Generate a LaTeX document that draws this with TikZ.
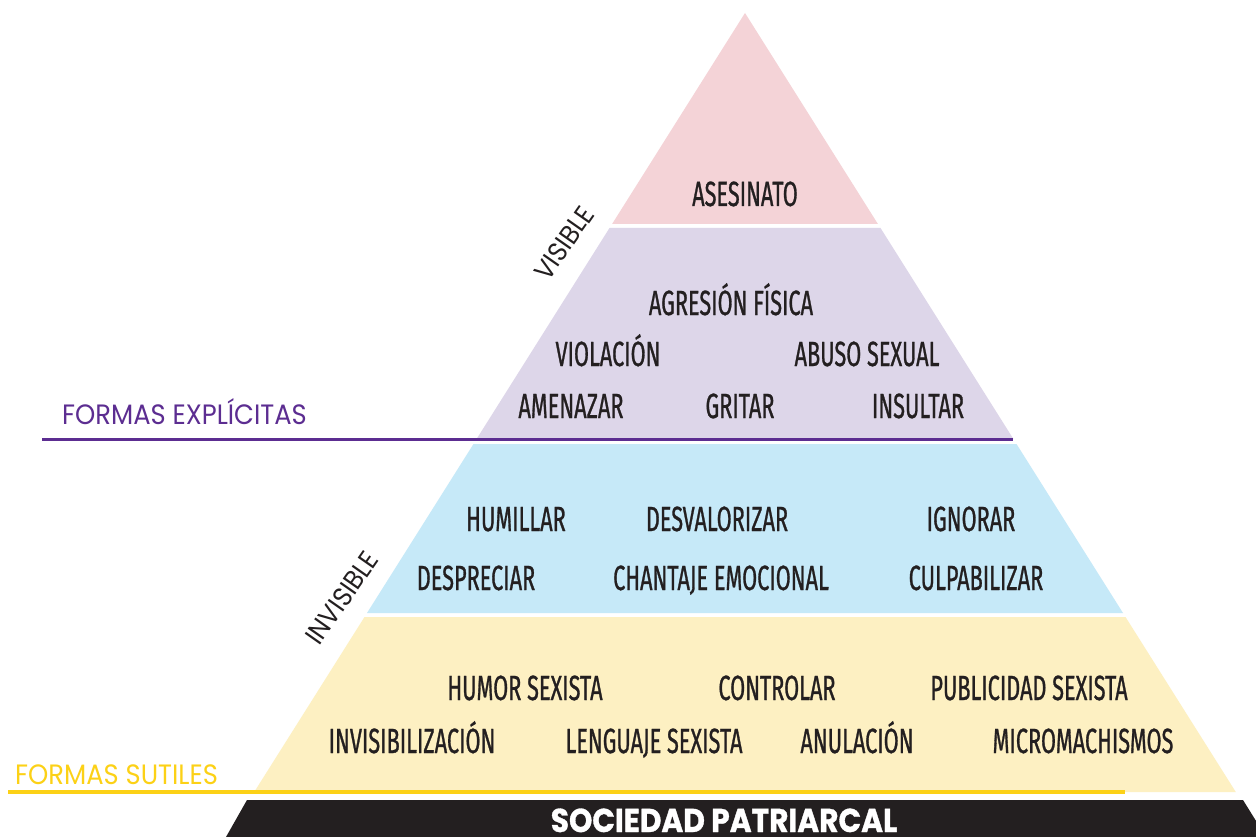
\documentclass[tikz,border=0pt]{standalone}
\usepackage{fontspec}
\setmainfont{Fira Sans}
\newfontfamily\labfont[FakeStretch=0.62,FakeBold=0.8]{Fira Sans}
\newfontfamily\sidefont[FakeStretch=0.92]{Poppins}
\newfontfamily\basefont[FakeStretch=0.9,FakeBold=1]{Poppins}
\definecolor{cpink}{HTML}{F4D3D7}
\definecolor{clav}{HTML}{DDD6E9}
\definecolor{cblue}{HTML}{C6E9F8}
\definecolor{cyel}{HTML}{FDF0C2}
\definecolor{cpurp}{HTML}{5C2D91}
\definecolor{cgold}{HTML}{FCD116}
\definecolor{cblack}{HTML}{231F20}
\tikzset{
  lab/.style={anchor=base, inner sep=0pt, text=cblack, font=\labfont\fontsize{35}{35}\selectfont},
  side/.style={anchor=base west, inner sep=0pt, font=\sidefont\fontsize{28}{28}\selectfont},
  slope/.style={anchor=center, inner sep=0pt, rotate=55, text=cblack, font=\sidefont\fontsize{27}{27}\selectfont},
}
\begin{document}
\begin{tikzpicture}[x=1pt,y=-1pt]
\useasboundingbox (0,0) rectangle (1256,837);
\fill[white] (0,0) rectangle (1256,837);
% layers
\fill[cpink] (745,13) -- (877.9,224) -- (612.1,224) -- cycle;
\fill[clav] (609.5,228) -- (880.5,228) -- (1013.4,439) -- (476.6,439) -- cycle;
\fill[cblue] (473.5,444) -- (1016.5,444) -- (1123,613) -- (367,613) -- cycle;
\fill[cyel] (364.5,617) -- (1125.5,617) -- (1235.8,792) -- (254.2,792) -- cycle;
% base band
\fill[cblack] (247,800) -- (1243,800) -- (1266,837) -- (226,837) -- cycle;
% rules
\coordinate (pl0) at (42,439);
\coordinate (pl1) at (1013,439);
\draw[cpurp, line width=3pt] (pl0) -- (pl1);
\coordinate (yl0) at (8,792);
\coordinate (yl1) at (1125,792);
\draw[cgold, line width=3.5pt] (yl0) -- (yl1);
% side labels
\node[side, text=cpurp] (fexp) at (62,424) {FORMAS EXPLÍCITAS};
\node[side, text=cgold] (fsut) at (15,784) {FORMAS SUTILES};
\node[slope] (vis) at (564,243) {VISIBLE};
\node[slope] (invis) at (342,598) {INVISIBLE};
% level 1
\node[lab] (asesinato) at (745,206) {ASESINATO};
% level 2
\node[lab] (agresion) at (731,315) {AGRESIÓN FÍSICA};
\node[lab] (violacion) at (608,366) {VIOLACIÓN};
\node[lab] (abuso) at (867,366) {ABUSO SEXUAL};
\node[lab] (amenazar) at (571,418) {AMENAZAR};
\node[lab] (gritar) at (740,418) {GRITAR};
\node[lab] (insultar) at (918,418) {INSULTAR};
% level 3
\node[lab] (humillar) at (516,531) {HUMILLAR};
\node[lab] (desval) at (717,531) {DESVALORIZAR};
\node[lab] (ignorar) at (971,531) {IGNORAR};
\node[lab] (despreciar) at (476,590) {DESPRECIAR};
\node[lab] (chantaje) at (721,590) {CHANTAJE EMOCIONAL};
\node[lab] (culpab) at (976,590) {CULPABILIZAR};
% level 4
\node[lab] (humor) at (525,700) {HUMOR SEXISTA};
\node[lab] (controlar) at (777,700) {CONTROLAR};
\node[lab] (publicidad) at (1029,700) {PUBLICIDAD SEXISTA};
\node[lab] (invisib) at (412,753) {INVISIBILIZACIÓN};
\node[lab] (lenguaje) at (654,753) {LENGUAJE SEXISTA};
\node[lab] (anulacion) at (857,753) {ANULACIÓN};
\node[lab] (micro) at (1083,753) {MICROMACHISMOS};
% base
\node[anchor=base, inner sep=0pt, text=white, font=\basefont\bfseries\fontsize{33}{33}\selectfont] (soc) at (724,832) {SOCIEDAD PATRIARCAL};
\end{tikzpicture}
\end{document}
